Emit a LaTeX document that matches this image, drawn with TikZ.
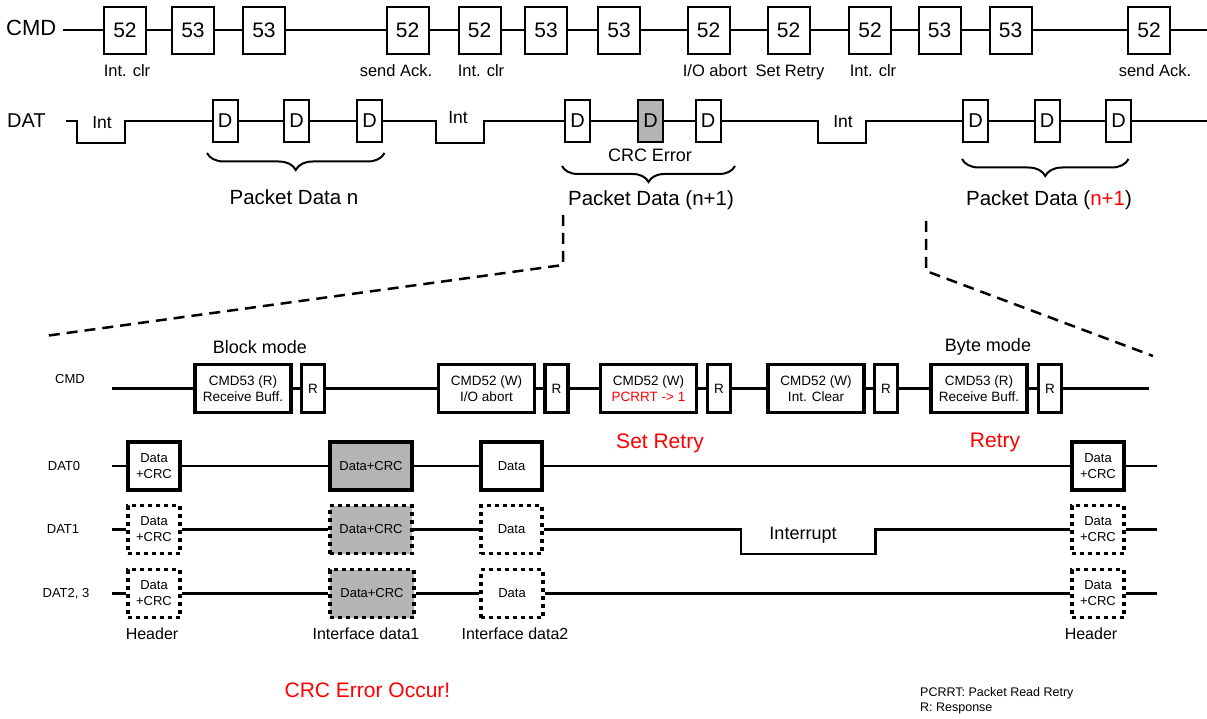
\documentclass[tikz,border=0pt]{standalone}
\usepackage{fontspec}
\setmainfont{Liberation Sans}
\usetikzlibrary{decorations.pathreplacing}
\definecolor{boxgray}{HTML}{B4B4B4}
\definecolor{errred}{HTML}{FF0000}
\newcommand{\fsz}[1]{\fontsize{#1}{#1}\selectfont}
\begin{document}
\begin{tikzpicture}[x=1pt,y=-1pt,
  wire/.style={line width=2pt},
  thinwire/.style={line width=2.2pt},
  topbox/.style={draw,line width=2pt,fill=white,minimum width=42pt,minimum height=47pt,inner sep=0pt,font=\fsz{21}},
  dbox/.style={draw,line width=2pt,fill=white,minimum width=25pt,minimum height=42pt,inner sep=0pt,font=\fsz{20}},
  toplab/.style={inner sep=0pt,anchor=base,font=\fsz{16.5}},
  biglab/.style={inner sep=0pt,font=\fsz{20.5}},
  cmdbox/.style={draw,line width=3.5pt,fill=white,minimum width=96pt,minimum height=48pt,inner sep=0pt,align=center,font=\fontsize{13.5}{16}\selectfont},
  rbox/.style={cmdbox,minimum width=23pt},
  solidbox/.style={draw,line width=3.5pt,fill=white,minimum height=48pt,inner sep=0pt,align=center,font=\fontsize{13}{16}\selectfont},
  dotbox/.style={solidbox,dash pattern=on 4pt off 4pt},
  rowlab/.style={inner sep=0pt,font=\fsz{13}},
  redlab/.style={inner sep=0pt,text=errred,font=\fsz{21}},
  brc/.style={line width=2pt,decorate},
  zoomline/.style={line width=2.5pt,dash pattern=on 11pt off 7pt}
]
\useasboundingbox (0,0) rectangle (1207,719);
\fill[white] (0,0) rectangle (1207,719);

% ===== top CMD row =====
\node[inner sep=0pt,anchor=base west,font=\fsz{22}] (cmdlab) at (6,36) {CMD};
\coordinate (cmdS) at (63,30.5);
\coordinate (cmdE) at (1207,30.5);
\foreach \n/\x/\t in {1/125/52,2/193/53,3/264/53,4/407.5/52,5/479.5/52,6/546/53,7/619/53,8/708.5/52,9/788.5/52,10/870/52,11/939.5/53,12/1010.5/53,13/1149/52}
  \node[topbox] (c\n) at (\x,30.5) {\t};
\draw[wire] (cmdS) -- (c1.west);
\foreach \a/\b in {1/2,2/3,3/4,4/5,5/6,6/7,7/8,8/9,9/10,10/11,11/12,12/13}
  \draw[wire] (c\a.east) -- (c\b.west);
\draw[wire] (c13.east) -- (cmdE);
\node[toplab] (l1) at (127,77) {Int. clr};
\node[toplab] (l2) at (396,77) {send Ack.};
\node[toplab] (l3) at (481,77) {Int. clr};
\node[toplab] (l4) at (715,77) {I/O abort};
\node[toplab] (l5) at (790,77) {Set Retry};
\node[toplab] (l6) at (873,77) {Int. clr};
\node[toplab] (l7) at (1155,77) {send Ack.};

% ===== top DAT row =====
\node[inner sep=0pt,anchor=base west,font=\fsz{20}] (datlab) at (7,128) {DAT};
\foreach \n/\x in {1/225,2/296.5,3/369.5,4/577.5,6/708,7/975.5,8/1047,9/1118.5}
  \node[dbox] (d\n) at (\x,121) {D};
\node[dbox,fill=boxgray] (d5) at (650.5,121) {D};
\coordinate (datS) at (66,121);
\coordinate (datE) at (1207,121);
\draw[wire] (datS) -- (76.5,121) -- (76.5,143) -- (124.5,143) -- (124.5,121) -- (d1.west);
\draw[wire] (d1.east) -- (d2.west);
\draw[wire] (d2.east) -- (d3.west);
\draw[wire] (d3.east) -- (436,121) -- (436,143) -- (484,143) -- (484,121) -- (d4.west);
\draw[wire] (d4.east) -- (d5.west);
\draw[wire] (d5.east) -- (d6.west);
\draw[wire] (d6.east) -- (818,121) -- (818,143) -- (866,143) -- (866,121) -- (d7.west);
\draw[wire] (d7.east) -- (d8.west);
\draw[wire] (d8.east) -- (d9.west);
\draw[wire] (d9.east) -- (datE);
\node[inner sep=0pt,font=\fsz{17.5}] (int1) at (102,123) {Int};
\node[inner sep=0pt,font=\fsz{17.5}] (int2) at (458,118) {Int};
\node[inner sep=0pt,font=\fsz{17.5}] (int3) at (843,122) {Int};
\node[inner sep=0pt,font=\fsz{18}] (crcerr) at (650,155) {CRC Error};

\draw[brc,decoration={brace,amplitude=17pt}] (384.5,153) -- (207,153);
\draw[brc,decoration={brace,amplitude=16pt}] (735,166) -- (562,166);
\draw[brc,decoration={brace,amplitude=17pt}] (1128.5,159) -- (962,159);
\node[biglab] (pd1) at (294,197) {Packet Data n};
\node[biglab] (pd2) at (651,200) {Packet Data (n+1)};
\node[biglab] (pd3) at (1049,200) {Packet Data (\textcolor{errred}{n+1})};

% ===== zoom lines =====
\coordinate (za) at (563,215);
\coordinate (zb) at (563,265);
\coordinate (zc) at (45,336);
\coordinate (zd) at (926,221);
\coordinate (ze) at (926,271);
\coordinate (zf) at (1153,356);
\draw[zoomline] (za) -- (zb) -- (zc);
\draw[zoomline] (zd) -- (ze) -- (zf);

% ===== lower CMD row =====
\node[inner sep=0pt,font=\fsz{18}] (blockm) at (260,347) {Block mode};
\node[inner sep=0pt,font=\fsz{18}] (bytem) at (988,347) {Byte mode};
\node[rowlab] (lcmd) at (70,379) {CMD};
\node[cmdbox] (k1) at (243,388.5) {CMD53 (R)\\Receive Buff.};
\node[rbox] (r1) at (313,388.5) {R};
\node[cmdbox] (k2) at (486.5,388.5) {CMD52 (W)\\I/O abort};
\node[rbox] (r2) at (556.5,388.5) {R};
\node[cmdbox] (k3) at (648.5,388.5) {CMD52 (W)\\\textcolor{errred}{PCRRT -> 1}};
\node[rbox] (r3) at (719,388.5) {R};
\node[cmdbox] (k4) at (816,388.5) {CMD52 (W)\\Int. Clear};
\node[rbox] (r4) at (886,388.5) {R};
\node[cmdbox] (k5) at (979,388.5) {CMD53 (R)\\Receive Buff.};
\node[rbox] (r5) at (1050,388.5) {R};
\coordinate (lcS) at (112,388.5);
\coordinate (lcE) at (1149,388.5);
\draw[thinwire] (lcS) -- (k1.west);
\draw[thinwire] (k1.east) -- (r1.west);
\draw[thinwire] (r1.east) -- (k2.west);
\draw[thinwire] (k2.east) -- (r2.west);
\draw[thinwire] (r2.east) -- (k3.west);
\draw[thinwire] (k3.east) -- (r3.west);
\draw[thinwire] (r3.east) -- (k4.west);
\draw[thinwire] (k4.east) -- (r4.west);
\draw[thinwire] (r4.east) -- (k5.west);
\draw[thinwire] (k5.east) -- (r5.west);
\draw[thinwire] (r5.east) -- (lcE);

\node[redlab] (setretry) at (660,443) {Set Retry};
\node[redlab] (retry) at (995,442) {Retry};

% ===== DAT0 =====
\node[rowlab] (ld0) at (64,466) {DAT0};
\node[solidbox,minimum width=52pt] (a1) at (154,466) {Data\\+CRC};
\node[solidbox,minimum width=82pt,fill=boxgray] (a2) at (371,466) {Data+CRC};
\node[solidbox,minimum width=61pt] (a3) at (511.5,466) {Data};
\node[solidbox,minimum width=52pt] (a4) at (1098,466) {Data\\+CRC};
\coordinate (d0S) at (112,466);
\coordinate (d0E) at (1157,466);
\draw[thinwire] (d0S) -- (a1.west);
\draw[thinwire] (a1.east) -- (a2.west);
\draw[thinwire] (a2.east) -- (a3.west);
\draw[thinwire] (a3.east) -- (a4.west);
\draw[thinwire] (a4.east) -- (d0E);

% ===== DAT1 =====
\node[rowlab] (ld1) at (63,529.5) {DAT1};
\node[dotbox,minimum width=52pt] (b1) at (154,529.5) {Data\\+CRC};
\node[dotbox,minimum width=82pt,fill=boxgray] (b2) at (371,529.5) {Data+CRC};
\node[dotbox,minimum width=61pt] (b3) at (511.5,529.5) {Data};
\node[dotbox,minimum width=52pt] (b4) at (1098,529.5) {Data\\+CRC};
\coordinate (d1S) at (112,529.5);
\coordinate (d1E) at (1157,529.5);
\draw[thinwire] (d1S) -- (b1.west);
\draw[thinwire] (b1.east) -- (b2.west);
\draw[thinwire] (b2.east) -- (b3.west);
\draw[thinwire] (b3.east) -- (741,529.5) -- (741,554) -- (875.5,554) -- (875.5,529.5) -- (b4.west);
\draw[thinwire] (b4.east) -- (d1E);
\node[inner sep=0pt,font=\fsz{18}] (intr) at (803,535) {Interrupt};

% ===== DAT2,3 =====
\node[rowlab] (ld2) at (66,593.5) {DAT2, 3};
\node[dotbox,minimum width=52pt] (e1) at (154,593.5) {Data\\+CRC};
\node[dotbox,minimum width=84pt,fill=boxgray] (e2) at (372,593.5) {Data+CRC};
\node[dotbox,minimum width=62pt] (e3) at (512,593.5) {Data};
\node[dotbox,minimum width=52pt] (e4) at (1098,593.5) {Data\\+CRC};
\coordinate (d2S) at (112,593.5);
\coordinate (d2E) at (1157,593.5);
\draw[thinwire] (d2S) -- (e1.west);
\draw[thinwire] (e1.east) -- (e2.west);
\draw[thinwire] (e2.east) -- (e3.west);
\draw[thinwire] (e3.east) -- (e4.west);
\draw[thinwire] (e4.east) -- (d2E);

\node[inner sep=0pt,font=\fsz{16}] (h1) at (152,634) {Header};
\node[inner sep=0pt,font=\fsz{16}] (h2) at (366,634) {Interface data1};
\node[inner sep=0pt,font=\fsz{16}] (h3) at (515,634) {Interface data2};
\node[inner sep=0pt,font=\fsz{16}] (h4) at (1091,634) {Header};

\node[redlab] (crcocc) at (367.5,690) {CRC Error Occur!};
\node[inner sep=0pt,anchor=west,font=\fsz{12.5}] (leg1) at (920,693) {PCRRT: Packet Read Retry};
\node[inner sep=0pt,anchor=west,font=\fsz{12.5}] (leg2) at (920,708) {R: Response};
\end{tikzpicture}
\end{document}
